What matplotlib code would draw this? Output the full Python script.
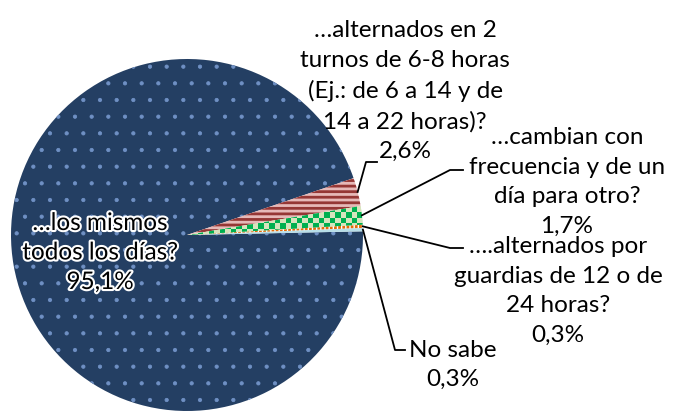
import numpy as np
import matplotlib.pyplot as plt
from matplotlib import patheffects as pe
from matplotlib.colors import ListedColormap

# datos
categorias = ['…los mismos\ntodos los días?',
              '…alternados en 2\nturnos de 6-8 horas\n(Ej.: de 6 a 14 y de\n14 a 22 horas)?',
              '…cambian con\nfrecuencia y de un\ndía para otro?',
              '….alternados por\nguardias de 12 o de\n24 horas?',
              'No sabe']
valores = [95.1, 2.6, 1.7, 0.3, 0.3]
porcentajes = ['95,1%', '2,6%', '1,7%', '0,3%', '0,3%']
colores = ['#243F63', '#E6B9B8', '#D7E4BD', '#FFFFFF', '#B7DEE8']

W, H = 674, 412
plt.rcParams['font.family'] = ['Lato', 'DejaVu Sans']
plt.rcParams['hatch.linewidth'] = 0.6

fig = plt.figure(figsize=(W / 100, H / 100), dpi=100)
ax = fig.add_axes([0, 0, 1, 1])

cx, cy, r = 187, H - 235, 176
wedges, _ = ax.pie(valores, center=(cx, cy), radius=r, startangle=1.2,
                   counterclock=False, colors=colores,
                   wedgeprops=dict(linewidth=0))

# tramas
wedges[0].set_hatch('.')
wedges[0].set_edgecolor('#6F90C4')
wedges[1].set_hatch('---')
wedges[1].set_edgecolor('#953735')
if hasattr(wedges[1], 'set_hatch_linewidth'):
    wedges[1].set_hatch_linewidth(2.0)
wedges[3].set_hatch('||||')
wedges[3].set_edgecolor('#E46C0A')
if hasattr(wedges[3], 'set_hatch_linewidth'):
    wedges[3].set_hatch_linewidth(2.0)

# tablero verde, recortado a la porcion
g = wedges[2]
x0, x1 = cx, cx + r
y0, y1 = cy - 5, cy + 40
nx = int((x1 - x0) / 5.5)
ny = int((y1 - y0) / 5.5)
tablero = np.add.outer(np.arange(ny), np.arange(nx)) % 2
im = ax.imshow(tablero, cmap=ListedColormap(['#D7E4BD', '#00B050']),
               extent=(x0, x1, y0, y1), origin='lower',
               interpolation='nearest', zorder=g.get_zorder() + 0.1)
im.set_clip_path(g)

ax.set_xlim(0, W)
ax.set_ylim(0, H)
ax.set_aspect('auto')
ax.axis('off')

fs = 17.5
ls = 1.5

# etiqueta principal con halo blanco
ax.text(100, H - 253, categorias[0] + '\n' + porcentajes[0], ha='center', va='center',
        fontsize=fs, linespacing=ls, color='black',
        path_effects=[pe.withStroke(linewidth=3, foreground='white')])

pos_texto = [None, (405, 91), (567, 182), (558, 291), (453, 365)]
codos = [None,
         [(366, 162), (377, 162)],
         [(450, 170), (463, 170)],
         [(450, 248), (463, 248)],
         [(395, 350), (405, 350)]]

# angulos de las porciones para las lineas guia
frac = np.array(valores) / sum(valores)
fin = 1.2 - 360 * np.cumsum(frac)
ini = fin + 360 * frac
medio = np.deg2rad((ini + fin) / 2)

for i in range(1, len(valores)):
    x, y = pos_texto[i]
    ax.text(x, H - y, categorias[i] + '\n' + porcentajes[i], ha='center', va='center',
            fontsize=fs, linespacing=ls, color='black')
    sx = cx + r * np.cos(medio[i])
    sy = cy + r * np.sin(medio[i])
    px = [sx] + [p[0] for p in codos[i]]
    py = [sy] + [H - p[1] for p in codos[i]]
    ax.plot(px, py, color='black', lw=1.3)

fig.savefig('out.png', dpi=100)
